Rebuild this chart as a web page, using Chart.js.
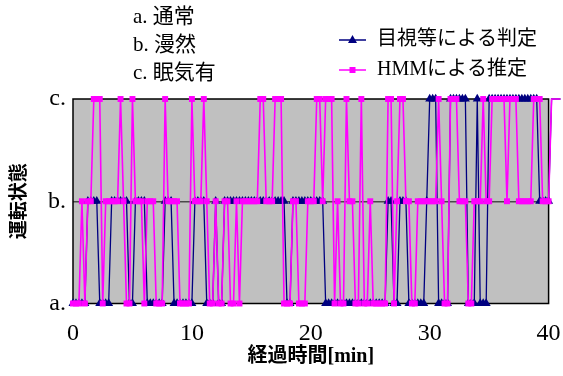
<!DOCTYPE html>
<html>
<head>
<meta charset="utf-8">
<script src="https://cdn.jsdelivr.net/npm/chart.js@4.4.1/dist/chart.umd.min.js"></script>
<style>
	html, body { margin: 0; padding: 0; background: #fff; }
	canvas { display: block; }
</style>
</head>
<body>
<canvas id="chart" width="563" height="376"></canvas>
<script>
// sampling step of both series, minutes
const STEP_MIN = 0.25

const stateTicks = ['a.', 'b.', 'c.']
const stateNames = ['a. 通常', 'b. 漫然', 'c. 眠気有']
const xTicks = [0, 10, 20, 30, 40]
const xTitle = '経過時間[min]'
const yTitle = '運転状態'

// 0 = a, 1 = b, 2 = c
const judgeLabel = '目視等による判定'
const judgeStates = [
	0, 0, 0, 0, 0, 1, 1, 1, 1, 0,
	0, 0, 0, 1, 1, 1, 1, 1, 1, 0,
	0, 1, 1, 1, 1, 0, 0, 0, 0, 0,
	0, 1, 1, 1, 0, 0, 0, 0, 0, 0,
	0, 1, 1, 1, 1, 0, 0, 0, 1, 0,
	0, 1, 1, 1, 1, 1, 1, 1, 1, 1,
	1, 1, 1, 1, 1, 1, 1, 1, 1, 1,
	1, 1, 0, 0, 1, 1, 1, 1, 1, 1,
	1, 1, 1, 1, 1, 0, 0, 0, 0, 0,
	0, 0, 0, 0, 0, 0, 0, 0, 0, 0,
	0, 0, 0, 0, 0, 0, 1, 1, 0, 0,
	1, 1, 1, 0, 0, 0, 0, 0, 0, 1,
	2, 2, 2, 0, 0, 0, 0, 2, 2, 2,
	2, 2, 2, 0, 0, 0, 2, 0, 0, 0,
	2, 2, 2, 2, 2, 2, 2, 2, 2, 2,
	2, 2, 2, 2, 2, 2, 2, 1, 1, 1,
	1, 2, 2, 2, 2,
]

const hmmLabel = 'HMMによる推定'
const hmmStates = [
	0, 0, 0, 1, 0, 1, 1, 2, 2, 2,
	0, 1, 1, 1, 1, 1, 2, 1, 0, 0,
	2, 1, 1, 1, 0, 1, 1, 1, 0, 0,
	0, 2, 1, 1, 1, 1, 0, 0, 0, 0,
	2, 1, 1, 1, 2, 1, 0, 0, 1, 0,
	0, 1, 1, 0, 0, 1, 0, 1, 1, 1,
	1, 1, 1, 2, 2, 1, 1, 1, 2, 2,
	2, 0, 0, 0, 1, 1, 0, 0, 0, 1,
	1, 1, 2, 2, 1, 2, 2, 2, 0, 1,
	0, 0, 2, 1, 1, 0, 0, 2, 0, 0,
	1, 0, 0, 0, 0, 0, 2, 2, 0, 1,
	2, 2, 1, 1, 0, 0, 1, 1, 1, 1,
	1, 1, 1, 2, 1, 0, 0, 2, 2, 2,
	1, 1, 1, 0, 0, 1, 1, 1, 2, 1,
	1, 2, 2, 2, 2, 2, 1, 2, 2, 2,
	1, 1, 1, 1, 1, 2, 2, 2, 1, 1,
	1, 2, 2, 2, 2,
]

const NAVY = '#000080'
const MAGENTA = '#FF00FF'
const SERIF = '"Liberation Serif", "Times New Roman", serif'
const MIXED = '"Liberation Serif", "Noto Sans CJK JP", sans-serif'

const toPoints = (states) => states.map((s, i) => ({ x: i * STEP_MIN, y: s }))
// no markers past the end of the x axis
const markerSize = (r) => (ctx) => (ctx.raw && ctx.raw.x > 40 ? 0 : r)

function drawMarker(ctx, style, x, y, color) {
	ctx.fillStyle = color
	ctx.beginPath()
	if (style === 'triangle') {
		ctx.moveTo(x, y - 5)
		ctx.lineTo(x + 4.5, y + 3)
		ctx.lineTo(x - 4.5, y + 3)
	} else {
		ctx.rect(x - 3, y - 3, 6, 6)
	}
	ctx.closePath()
	ctx.fill()
}

const plotFrame = {
	id: 'plotFrame',
	beforeDraw(chart) {
		const { ctx, chartArea: a } = chart
		ctx.save()
		ctx.fillStyle = '#C0C0C0'
		ctx.fillRect(a.left, a.top, a.right - a.left, a.bottom - a.top)
		ctx.restore()
	},
	beforeDatasetsDraw(chart) {
		const { ctx, chartArea: a } = chart
		ctx.save()
		ctx.strokeStyle = '#000'
		ctx.lineWidth = 1.5
		ctx.strokeRect(a.left, a.top, a.right - a.left, a.bottom - a.top)
		ctx.restore()
	},
	afterDraw(chart) {
		const ctx = chart.ctx
		ctx.save()
		ctx.textBaseline = 'middle'
		ctx.textAlign = 'left'
		ctx.fillStyle = '#000'
		ctx.font = '21px ' + MIXED
		stateNames.forEach((t, i) => ctx.fillText(t, 133, 17 + i * 28))

		chart.data.datasets.forEach((ds, i) => {
			const y = 40 + i * 30
			ctx.strokeStyle = ds.borderColor
			ctx.lineWidth = 1.5
			ctx.beginPath()
			ctx.moveTo(339, y)
			ctx.lineTo(366, y)
			ctx.stroke()
			drawMarker(ctx, ds.pointStyle, 352.5, y, ds.borderColor)
			ctx.fillStyle = '#000'
			ctx.font = '20px ' + MIXED
			ctx.fillText(ds.label, 377, y)
		})
		ctx.restore()
	},
}

new Chart(document.getElementById('chart'), {
	type: 'line',
	data: {
		datasets: [
			{
				label: judgeLabel,
				data: toPoints(judgeStates),
				borderColor: NAVY,
				backgroundColor: NAVY,
				borderWidth: 1.3,
				pointStyle: 'triangle',
				pointRadius: markerSize(5.2),
				pointBorderWidth: 0,
				tension: 0,
				clip: false,
				order: 1,
			},
			{
				label: hmmLabel,
				data: toPoints(hmmStates),
				borderColor: MAGENTA,
				backgroundColor: MAGENTA,
				borderWidth: 1.6,
				pointStyle: 'rect',
				pointRadius: markerSize(4.2),
				pointBorderWidth: 0,
				tension: 0,
				clip: false,
				order: 0,
			},
		],
	},
	options: {
		responsive: false,
		animation: false,
		events: [],
		layout: { padding: { top: 99, right: 14.4, left: 0, bottom: 0 } },
		plugins: {
			legend: { display: false },
			tooltip: { enabled: false },
		},
		scales: {
			x: {
				type: 'linear',
				// axis ends at 40, the last samples run past it
				afterDataLimits: (s) => {
					s.min = 0
					s.max = 40
				},
				afterBuildTicks: (s) => { s.ticks = xTicks.map((v) => ({ value: v })) },
				afterFit: (s) => {
					s.height = 72.5
					s.paddingLeft = 0
					s.paddingRight = 0
				},
				grid: { display: false, drawTicks: false },
				border: { display: false },
				ticks: {
					color: '#000',
					padding: 16,
					maxRotation: 0,
					font: { family: SERIF, size: 24 },
				},
				title: {
					display: true,
					text: xTitle,
					color: '#000',
					padding: { top: 0, bottom: 7 },
					font: { family: MIXED, size: 20, weight: 'bold' },
				},
			},
			y: {
				min: 0,
				max: 2,
				afterBuildTicks: (s) => { s.ticks = stateTicks.map((_, i) => ({ value: i })) },
				afterFit: (s) => { s.width = 73 },
				grid: {
					drawTicks: false,
					lineWidth: 1.5,
					color: (c) => (c.tick && c.tick.value === 1 ? '#4a4a4a' : 'rgba(0,0,0,0)'),
				},
				border: { display: false },
				ticks: {
					color: '#000',
					padding: 7,
					callback: (v) => stateTicks[v],
					font: { family: SERIF, size: 24 },
				},
				title: {
					display: true,
					text: yTitle,
					color: '#000',
					padding: { top: 9, bottom: 0 },
					font: { family: MIXED, size: 19, weight: 'bold' },
				},
			},
		},
	},
	plugins: [plotFrame],
})
</script>
</body>
</html>
